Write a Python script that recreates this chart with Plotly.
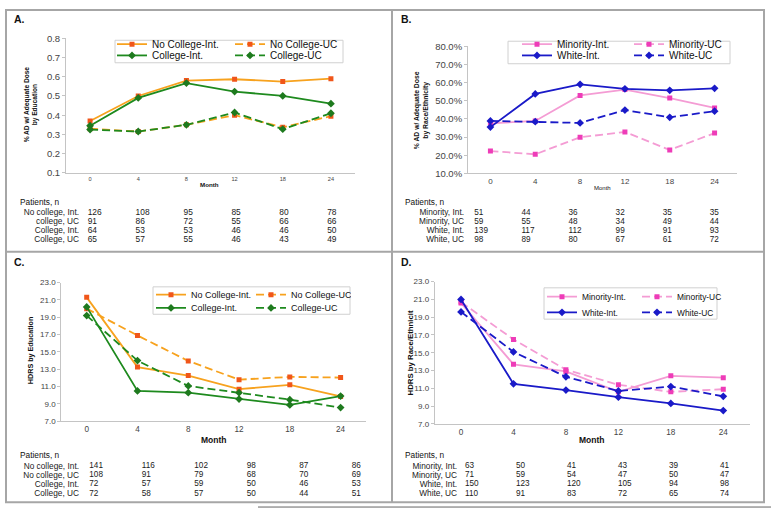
import plotly.graph_objects as go

W, H = 771, 514
FONT = "Liberation Sans, Arial, sans-serif"

months = ["0", "4", "8", "12", "18", "24"]

# ---- Panel A: % AD w/ adequate dose by education ----
a_names = ["No College-Int.", "No College-UC", "College-Int.", "College-UC"]
a_nocol_int = [0.37, 0.50, 0.58, 0.587, 0.575, 0.59]
a_nocol_uc = [0.33, 0.315, 0.35, 0.40, 0.337, 0.395]
a_col_int = [0.345, 0.49, 0.567, 0.523, 0.50, 0.46]
a_col_uc = [0.325, 0.315, 0.35, 0.414, 0.327, 0.41]

# ---- Panel B: % AD w/ adequate dose by race/ethnicity (percent) ----
b_names = ["Minority-Int.", "Minority-UC", "White-Int.", "White-UC"]
b_min_int = [37.6, 38.9, 53.0, 56.2, 51.5, 46.1]
b_min_uc = [22.3, 20.5, 29.9, 32.8, 22.9, 32.2]
b_wht_int = [35.5, 53.8, 59.1, 56.6, 55.8, 56.9]
b_wht_uc = [38.9, 38.5, 37.8, 44.9, 40.9, 44.3]

# ---- Panel C: HDRS by education ----
c_nocol_int = [21.3, 13.25, 12.27, 10.7, 11.2, 9.86]
c_nocol_uc = [20.0, 16.9, 13.96, 11.8, 12.12, 12.04]
c_col_int = [20.2, 10.5, 10.3, 9.56, 8.88, 9.9]
c_col_uc = [19.2, 14.0, 11.07, 10.3, 9.49, 8.58]

# ---- Panel D: HDRS by race/ethnicity ----
d_min_int = [20.6, 13.7, 12.9, 10.6, 12.4, 12.2]
d_min_uc = [20.7, 16.5, 13.1, 11.4, 10.6, 10.9]
d_wht_int = [21.0, 11.5, 10.8, 10.0, 9.3, 8.5]
d_wht_uc = [19.6, 15.1, 12.3, 10.7, 11.2, 10.1]

# ---- Patient count tables ----
a_rows = ["No college, Int.", "college, UC", "College, Int.", "College, UC"]
a_counts = [[126, 108, 95, 85, 80, 78],
            [91, 86, 72, 55, 66, 66],
            [64, 53, 53, 46, 46, 50],
            [65, 57, 55, 46, 43, 49]]
b_rows = ["Minority, Int.", "Minority, UC", "White, Int.", "White, UC"]
b_counts = [[51, 44, 36, 32, 35, 35],
            [59, 55, 48, 34, 49, 44],
            [139, 117, 112, 99, 91, 93],
            [98, 89, 80, 67, 61, 72]]
c_rows = ["No college, Int.", "No college, UC", "College, Int.", "College, UC"]
c_counts = [[141, 116, 102, 98, 87, 86],
            [108, 91, 79, 68, 70, 69],
            [72, 57, 59, 50, 46, 53],
            [72, 58, 57, 50, 44, 51]]
d_rows = ["Minority, Int.", "Minority, UC", "White, Int.", "White, UC"]
d_counts = [[63, 50, 41, 43, 39, 41],
            [71, 59, 54, 47, 50, 47],
            [150, 123, 120, 105, 94, 98],
            [110, 91, 83, 72, 65, 74]]


def px(x):
    return x / W


def py(y):
    return 1 - y / H


ORANGE_L, ORANGE_M = "#F7A21E", "#F0561A"
GREEN_L, GREEN_M = "#1E8A1E", "#1E7A1E"
PINK_L, PINK_M = "#F49CD4", "#EE3CB8"
BLUE_L, BLUE_M = "#1A1AC8", "#1A1AC8"
DASH = "8px,4px"

fig = go.Figure()


def add(name, y, ax, lc, mc, sym, dash, leg, msize):
    fig.add_trace(go.Scatter(
        x=months, y=y, name=name, mode="lines+markers",
        xaxis="x" + ax, yaxis="y" + ax, legend=leg,
        line=dict(color=lc, width=1.8, dash=dash),
        marker=dict(color=mc, symbol=sym, size=msize, line=dict(width=0)),
    ))


# panel A (axes 1)
add(a_names[0], a_nocol_int, "", ORANGE_L, ORANGE_M, "square", "solid", "legend", 5)
add(a_names[1], a_nocol_uc, "", ORANGE_L, ORANGE_M, "square", DASH, "legend", 5)
add(a_names[2], a_col_int, "", GREEN_L, GREEN_M, "diamond", "solid", "legend2", 6)
add(a_names[3], a_col_uc, "", GREEN_L, GREEN_M, "diamond", DASH, "legend2", 6)
# panel B (axes 2)
add(b_names[0], b_min_int, "2", PINK_L, PINK_M, "square", "solid", "legend3", 5)
add(b_names[1], b_min_uc, "2", PINK_L, PINK_M, "square", DASH, "legend3", 5)
add(b_names[2], b_wht_int, "2", BLUE_L, BLUE_M, "diamond", "solid", "legend4", 6)
add(b_names[3], b_wht_uc, "2", BLUE_L, BLUE_M, "diamond", DASH, "legend4", 6)
# panel C (axes 3)
add(a_names[0], c_nocol_int, "3", ORANGE_L, ORANGE_M, "square", "solid", "legend5", 5)
add(a_names[1], c_nocol_uc, "3", ORANGE_L, ORANGE_M, "square", DASH, "legend5", 5)
add(a_names[2], c_col_int, "3", GREEN_L, GREEN_M, "diamond", "solid", "legend6", 6)
add(a_names[3], c_col_uc, "3", GREEN_L, GREEN_M, "diamond", DASH, "legend6", 6)
# panel D (axes 4)
add(b_names[0], d_min_int, "4", PINK_L, PINK_M, "square", "solid", "legend7", 5)
add(b_names[1], d_min_uc, "4", PINK_L, PINK_M, "square", DASH, "legend7", 5)
add(b_names[2], d_wht_int, "4", BLUE_L, BLUE_M, "diamond", "solid", "legend8", 6)
add(b_names[3], d_wht_uc, "4", BLUE_L, BLUE_M, "diamond", DASH, "legend8", 6)


# tables as text traces on hidden axes
def add_table(ax, rows, counts, size):
    xs, ys, ts = [], [], []
    for r, vals in zip(rows, counts):
        for m, v in zip(months, vals):
            xs.append(m)
            ys.append(r)
            ts.append(str(v))
    fig.add_trace(go.Scatter(
        x=xs, y=ys, text=ts, mode="text", textposition="middle right",
        textfont=dict(size=size, color="#1a1a1a", family=FONT),
        xaxis="x" + ax, yaxis="y" + ax, showlegend=False, hoverinfo="skip"))


add_table("5", a_rows, a_counts, 8.4)
add_table("6", b_rows, b_counts, 8.2)
add_table("7", c_rows, c_counts, 8.2)
add_table("8", d_rows, d_counts, 8.2)

AX_LINE = "#c4c4c4"
TICK_C = "#444444"


def xaxis_cfg(left, right, anchor, size):
    return dict(domain=[px(left), px(right)], anchor=anchor, type="category",
                categoryorder="array", categoryarray=months, range=[-0.5, 5.5],
                showline=True, linecolor=AX_LINE, linewidth=1, ticks="",
                showgrid=False, zeroline=False,
                tickfont=dict(size=size, color=TICK_C, family=FONT))


def yaxis_cfg(top, bottom, anchor, rng, dtick, size, fmt, suffix=""):
    return dict(domain=[py(bottom), py(top)], anchor=anchor, range=rng,
                tickmode="linear", tick0=rng[0], dtick=dtick,
                tickformat=fmt, ticksuffix=suffix,
                showline=True, linecolor=AX_LINE, linewidth=1, ticks="outside",
                ticklen=3, tickcolor=AX_LINE, showgrid=False, zeroline=False,
                tickfont=dict(size=size, color=TICK_C, family=FONT))


def table_axes(rows, s0, step, rtop, rstep, label_right, anchor_y):
    left = s0 - step / 2
    xa = dict(domain=[px(left), px(left + 6 * step)], anchor=anchor_y, type="category",
              categoryorder="array", categoryarray=months, range=[-0.5, 5.5],
              visible=False)
    top = rtop - rstep / 2
    ya = dict(domain=[py(top + 4 * rstep), py(top)], anchor="free",
              position=px(label_right + 2), type="category",
              categoryorder="array", categoryarray=rows, range=[3.5, -0.5],
              tickmode="array", tickvals=rows, ticktext=rows,
              showline=False, showgrid=False, zeroline=False, ticks="",
              tickfont=dict(size=8.3, color="#1a1a1a", family=FONT))
    return xa, ya


layout = dict(
    width=W, height=H, margin=dict(l=0, r=0, t=0, b=0),
    paper_bgcolor="white", plot_bgcolor="white",
    font=dict(family=FONT, color="#111"),
    xaxis=xaxis_cfg(66, 355, "y", 5.6),
    yaxis=yaxis_cfg(33, 170.5, "x", [0.1, 0.8], 0.1, 9.5, ".1f"),
    xaxis2=xaxis_cfg(468, 737, "y2", 8),
    yaxis2=yaxis_cfg(41.3, 171, "x2", [10, 80], 10, 9.5, ".1f", "%"),
    xaxis3=xaxis_cfg(61.3, 366, "y3", 8.2),
    yaxis3=yaxis_cfg(282.7, 424.3, "x3", [7, 23], 2, 8, ".1f"),
    xaxis4=xaxis_cfg(434.8, 749.5, "y4", 8.2),
    yaxis4=yaxis_cfg(281.7, 427, "x4", [7, 23], 2, 8, ".1f"),
)

xa, ya = table_axes(a_rows, 87.7, 47.9, 211, 9.2, 77, "y5")
layout["xaxis5"], layout["yaxis5"] = xa, ya
xa, ya = table_axes(b_rows, 474.3, 47.1, 211, 9.2, 462, "y6")
layout["xaxis6"], layout["yaxis6"] = xa, ya
xa, ya = table_axes(c_rows, 89.3, 52.5, 470, 9.4, 77, "y7")
layout["xaxis7"], layout["yaxis7"] = xa, ya
xa, ya = table_axes(d_rows, 465, 51.0, 470, 9.4, 455, "y8")
layout["xaxis8"], layout["yaxis8"] = xa, ya


def legend_cfg(x, y, size, ew):
    return dict(x=px(x), y=py(y), xanchor="left", yanchor="middle", orientation="h",
                entrywidth=ew, entrywidthmode="pixels", itemwidth=30,
                font=dict(size=size, family=FONT, color="#111"),
                bgcolor="rgba(0,0,0,0)", borderwidth=0, traceorder="normal")


layout["legend"] = legend_cfg(112, 39, 10, 73)
layout["legend2"] = legend_cfg(112, 50.5, 10, 73)
layout["legend3"] = legend_cfg(517, 39, 10, 67)
layout["legend4"] = legend_cfg(517, 50.5, 10, 67)
layout["legend5"] = legend_cfg(151, 295, 9, 55)
layout["legend6"] = legend_cfg(151, 308.5, 9, 55)
layout["legend7"] = legend_cfg(542, 297, 8.4, 50)
layout["legend8"] = legend_cfg(542, 313, 8.4, 50)

fig.update_layout(**layout)

# legend boxes and panel borders
BORDER = "#a6a6a6"
shapes = []
for (x0, y0, x1, y1) in [(115, 35, 343, 58), (508, 36, 730, 59),
                         (153, 287, 350, 315), (544, 288, 717, 320)]:
    shapes.append(dict(type="rect", xref="paper", yref="paper",
                       x0=px(x0), x1=px(x1), y0=py(y1), y1=py(y0),
                       line=dict(color="#d0d0d0", width=1)))
shapes.append(dict(type="rect", xref="paper", yref="paper", x0=px(6), x1=px(764),
                   y0=py(507), y1=py(4), line=dict(color=BORDER, width=2)))
shapes.append(dict(type="line", xref="paper", yref="paper", x0=px(392), x1=px(392),
                   y0=py(507), y1=py(4), line=dict(color=BORDER, width=2)))
shapes.append(dict(type="line", xref="paper", yref="paper", x0=px(6), x1=px(764),
                   y0=py(251), y1=py(251), line=dict(color=BORDER, width=2)))
shapes.append(dict(type="line", xref="paper", yref="paper", x0=px(258), x1=px(771),
                   y0=py(512), y1=py(512), line=dict(color="#666", width=1)))
fig.update_layout(shapes=shapes)


def ann(text, x, y, size, bold=False, xanchor="left", angle=0, color="#111"):
    if bold:
        text = "<b>" + text + "</b>"
    fig.add_annotation(text=text, x=px(x), y=py(y), xref="paper", yref="paper",
                       xanchor=xanchor, yanchor="middle", showarrow=False,
                       textangle=angle, font=dict(size=size, family=FONT, color=color))


ann("A.", 12, 13, 10.5, True)
ann("B.", 399, 13, 10.5, True)
ann("C.", 12, 262, 10.5, True)
ann("D.", 399, 262, 10.5, True)

ann("Month", 210, 182, 6.2, True, "center")
ann("Month", 602, 186, 6, False, "center")
ann("Month", 213.5, 443, 8.5, True, "center")
ann("Month", 592, 444, 8.5, True, "center")

ann("Patients, n", 18, 200, 8.3)
ann("Patients, n", 403, 200, 8.3)
ann("Patients, n", 18, 459, 8.3)
ann("Patients, n", 403, 459, 8.3)

ann("% AD w/ Adequate Dose<br>by Education", 31.5, 101, 6.6, True, "center", -90)
ann("% AD w/ Adequate Dose<br>by Race/Ethnicity", 421.5, 106, 6.8, True, "center", -90)
ann("HDRS by Education", 30.7, 352, 7.2, True, "center", -90)
ann("HDRS by Race/Ethnicit", 410, 355, 7.8, True, "center", -90)

fig.write_html("out.html", config={"displayModeBar": False},
               post_script="document.body.style.margin='0px';")
